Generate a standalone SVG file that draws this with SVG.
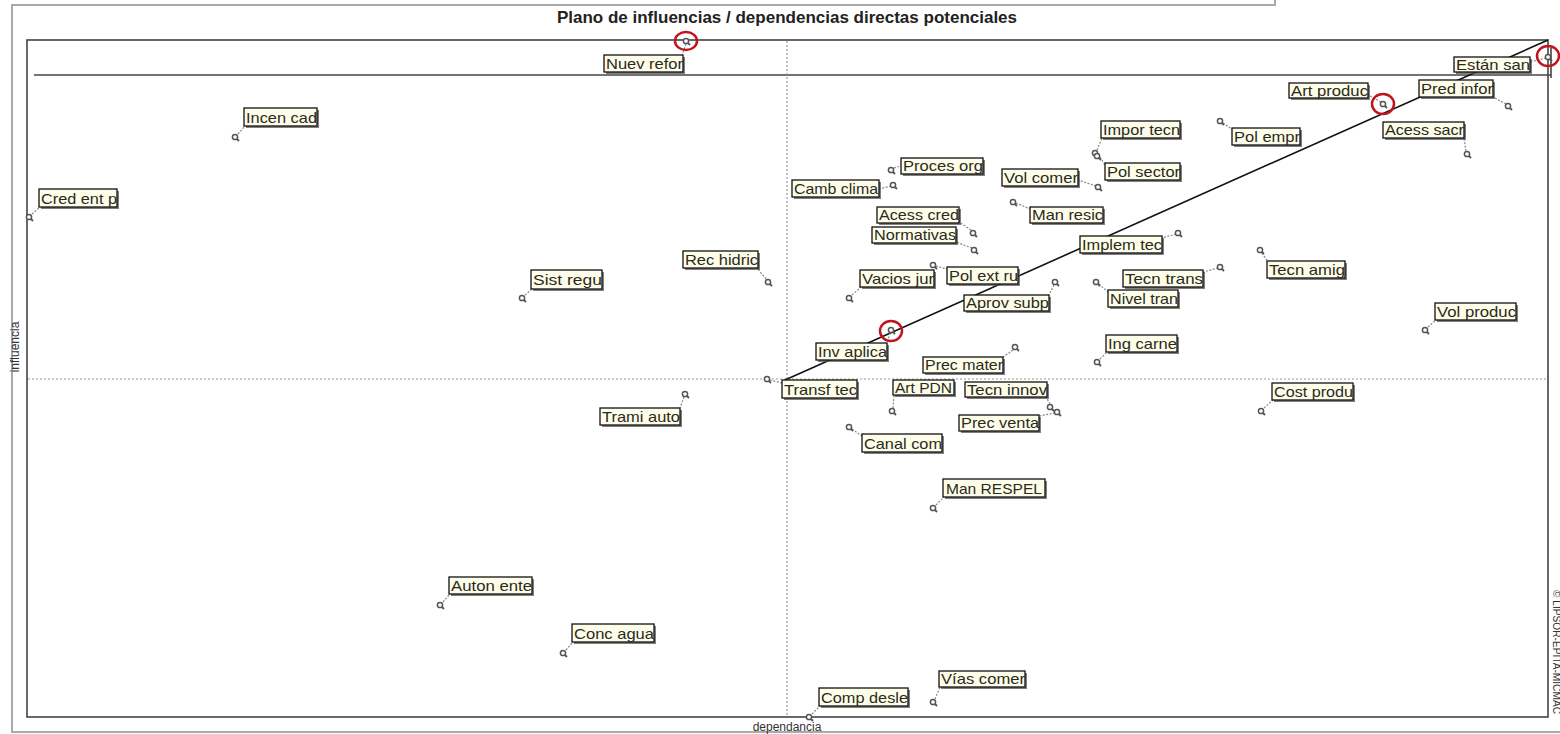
<svg xmlns="http://www.w3.org/2000/svg" xmlns:xlink="http://www.w3.org/1999/xlink" width="1560" height="734" viewBox="0 0 1560 734">
<style>
.frame{fill:none;stroke:#444;stroke-width:1.6}
.outer{fill:none;stroke:#aaa;stroke-width:2}
.axis{stroke:#999;stroke-width:1.2;stroke-dasharray:2 2;fill:none}
.shadow{fill:#555;opacity:0.75}
.box{fill:#fdfdea;stroke:#111;stroke-width:1.3}
.lbl{font-family:"Liberation Sans",Arial,sans-serif;font-size:15px;fill:#2a2a1c}
.lead{stroke:#888;stroke-width:1.2;stroke-dasharray:2 1.5;fill:none}
.pc{fill:#fff;stroke:#555;stroke-width:1.5}
.pt{stroke:#555;stroke-width:1.8}
.hl{fill:none;stroke:#c0141e;stroke-width:2.5}
.title{font-family:"Liberation Sans",Arial,sans-serif;font-size:17px;font-weight:bold;fill:#222}
.ax{font-family:"Liberation Sans",Arial,sans-serif;font-size:12px;fill:#333}
</style>
<defs>
<g id="p"><line class="pt" x1="1" y1="1" x2="4" y2="4"/><circle class="pc" cx="0" cy="0" r="2.6"/></g>
</defs>
<rect x="0" y="0" width="1560" height="734" fill="#fff"/>
<g id="frame">
<polyline class="outer" points="1275,0 1275,5 12,5 12,732 1560,732"/>
<rect class="frame" x="27" y="40" width="1521" height="677"/>
<line class="frame" x1="34" y1="75" x2="1551" y2="75"/>
<line class="frame" x1="1551" y1="48" x2="1551" y2="78"/>
<line class="axis" x1="787" y1="41" x2="787" y2="716"/>
<line class="axis" x1="28" y1="379" x2="1547" y2="379"/>
<text class="title" x="787" y="23" text-anchor="middle">Plano de influencias / dependencias directas potenciales</text>
<text class="ax" x="787" y="731" text-anchor="middle">dependancia</text>
<text class="ax" transform="translate(19,347) rotate(-90)" text-anchor="middle">influencia</text>
<text transform="translate(1553,590) rotate(90)" font-family="Liberation Sans, Arial, sans-serif" font-size="10" textLength="124" lengthAdjust="spacingAndGlyphs" fill="#333">© LIPSOR-EPITA-MICMAC</text>
</g>
<g id="connectors">
<line x1="785" y1="380" x2="1548" y2="40" stroke="#111" stroke-width="1.6"/>
<line class="lead" x1="686" y1="44" x2="682" y2="55"/>
<line class="lead" x1="238" y1="134" x2="245" y2="126"/>
<line class="lead" x1="32" y1="214" x2="40" y2="207"/>
<line class="lead" x1="525" y1="295" x2="532" y2="289"/>
<line class="lead" x1="766" y1="279" x2="757" y2="268"/>
<line class="lead" x1="684" y1="397" x2="680" y2="408"/>
<line class="lead" x1="770" y1="380" x2="782" y2="383"/>
<line class="lead" x1="443" y1="602" x2="450" y2="594"/>
<line class="lead" x1="566" y1="650" x2="573" y2="642"/>
<line class="lead" x1="812" y1="714" x2="820" y2="706"/>
<line class="lead" x1="935" y1="699" x2="940" y2="687"/>
<line class="lead" x1="936" y1="505" x2="944" y2="497"/>
<line class="lead" x1="852" y1="429" x2="862" y2="436"/>
<line class="lead" x1="893" y1="408" x2="894" y2="394"/>
<line class="lead" x1="1050" y1="404" x2="1046" y2="397"/>
<line class="lead" x1="1055" y1="413" x2="1039" y2="416"/>
<line class="lead" x1="1013" y1="350" x2="1003" y2="357"/>
<line class="lead" x1="890" y1="333" x2="887" y2="343"/>
<line class="lead" x1="852" y1="295" x2="861" y2="287"/>
<line class="lead" x1="936" y1="266" x2="947" y2="269"/>
<line class="lead" x1="1054" y1="285" x2="1049" y2="295"/>
<line class="lead" x1="971" y1="230" x2="959" y2="222"/>
<line class="lead" x1="972" y1="248" x2="956" y2="242"/>
<line class="lead" x1="891" y1="186" x2="879" y2="189"/>
<line class="lead" x1="894" y1="168" x2="901" y2="166"/>
<line class="lead" x1="1096" y1="186" x2="1078" y2="180"/>
<line class="lead" x1="1016" y1="203" x2="1030" y2="209"/>
<line class="lead" x1="1097" y1="150" x2="1102" y2="138"/>
<line class="lead" x1="1100" y1="157" x2="1105" y2="165"/>
<line class="lead" x1="1176" y1="234" x2="1162" y2="238"/>
<line class="lead" x1="1218" y1="268" x2="1203" y2="272"/>
<line class="lead" x1="1099" y1="284" x2="1108" y2="292"/>
<line class="lead" x1="1100" y1="359" x2="1107" y2="352"/>
<line class="lead" x1="1262" y1="253" x2="1268" y2="262"/>
<line class="lead" x1="1428" y1="327" x2="1436" y2="320"/>
<line class="lead" x1="1264" y1="408" x2="1273" y2="400"/>
<line class="lead" x1="1223" y1="123" x2="1233" y2="130"/>
<line class="lead" x1="1381" y1="102" x2="1368" y2="95"/>
<line class="lead" x1="1466" y1="151" x2="1464" y2="138"/>
<line class="lead" x1="1506" y1="104" x2="1493" y2="97"/>
<line class="lead" x1="1546" y1="58" x2="1530" y2="62"/>
</g>
<g id="n-nuev-refor"><use xlink:href="#p" x="686" y="41"/><rect class="shadow" x="606" y="57" width="79" height="17"/><rect class="box" x="604" y="55" width="79" height="17"/><text class="lbl" x="606" y="68.5" textLength="77" lengthAdjust="spacingAndGlyphs">Nuev refor</text></g>
<g id="n-incen-cad"><use xlink:href="#p" x="235" y="137"/><rect class="shadow" x="246" y="110" width="73" height="18"/><rect class="box" x="244" y="108" width="73" height="18"/><text class="lbl" x="246" y="122.5" textLength="71" lengthAdjust="spacingAndGlyphs">Incen cad</text></g>
<g id="n-cred-ent"><use xlink:href="#p" x="29" y="217"/><rect class="shadow" x="41" y="191" width="78" height="18"/><rect class="box" x="39" y="189" width="78" height="18"/><text class="lbl" x="41" y="203.5" textLength="76" lengthAdjust="spacingAndGlyphs">Cred ent p</text></g>
<g id="n-sist-regu"><use xlink:href="#p" x="522" y="298"/><rect class="shadow" x="533" y="272" width="71" height="19"/><rect class="box" x="531" y="270" width="71" height="19"/><text class="lbl" x="533" y="285" textLength="69" lengthAdjust="spacingAndGlyphs">Sist regu</text></g>
<g id="n-rec-hidric"><use xlink:href="#p" x="768" y="282"/><rect class="shadow" x="685" y="253" width="75" height="17"/><rect class="box" x="683" y="251" width="75" height="17"/><text class="lbl" x="685" y="264.5" textLength="73" lengthAdjust="spacingAndGlyphs">Rec hidric</text></g>
<g id="n-trami-auto"><use xlink:href="#p" x="685" y="394"/><rect class="shadow" x="602" y="410" width="80" height="17"/><rect class="box" x="600" y="408" width="80" height="17"/><text class="lbl" x="602" y="421.5" textLength="78" lengthAdjust="spacingAndGlyphs">Trami auto</text></g>
<g id="n-transf-tec"><use xlink:href="#p" x="767" y="379"/><rect class="shadow" x="784" y="382" width="75" height="18"/><rect class="box" x="782" y="380" width="75" height="18"/><text class="lbl" x="784" y="394.5" textLength="73" lengthAdjust="spacingAndGlyphs">Transf tec</text></g>
<g id="n-auton-ente"><use xlink:href="#p" x="440" y="605"/><rect class="shadow" x="451" y="579" width="83" height="17"/><rect class="box" x="449" y="577" width="83" height="17"/><text class="lbl" x="451" y="590.5" textLength="81" lengthAdjust="spacingAndGlyphs">Auton ente</text></g>
<g id="n-conc-agua"><use xlink:href="#p" x="563" y="653"/><rect class="shadow" x="574" y="626" width="82" height="18"/><rect class="box" x="572" y="624" width="82" height="18"/><text class="lbl" x="574" y="638.5" textLength="80" lengthAdjust="spacingAndGlyphs">Conc agua</text></g>
<g id="n-comp-desle"><use xlink:href="#p" x="809" y="717"/><rect class="shadow" x="821" y="690" width="89" height="18"/><rect class="box" x="819" y="688" width="89" height="18"/><text class="lbl" x="821" y="702.5" textLength="87" lengthAdjust="spacingAndGlyphs">Comp desle</text></g>
<g id="n-vias-comer"><use xlink:href="#p" x="933" y="702"/><rect class="shadow" x="941" y="673" width="86" height="16"/><rect class="box" x="939" y="671" width="86" height="16"/><text class="lbl" x="941" y="684" textLength="84" lengthAdjust="spacingAndGlyphs">Vías comer</text></g>
<g id="n-man-respel"><use xlink:href="#p" x="933" y="508"/><rect class="shadow" x="945" y="481" width="102" height="18"/><rect class="box" x="943" y="479" width="102" height="18"/><text class="lbl" x="946" y="493.5" textLength="96" lengthAdjust="spacingAndGlyphs">Man RESPEL</text></g>
<g id="n-canal-com"><use xlink:href="#p" x="849" y="427"/><rect class="shadow" x="864" y="436" width="80" height="18"/><rect class="box" x="862" y="434" width="80" height="18"/><text class="lbl" x="864" y="448.5" textLength="78" lengthAdjust="spacingAndGlyphs">Canal com</text></g>
<g id="n-art-pdn"><use xlink:href="#p" x="892" y="411"/><rect class="shadow" x="895" y="382" width="61" height="15"/><rect class="box" x="893" y="380" width="61" height="15"/><text class="lbl" x="895" y="393" textLength="57" lengthAdjust="spacingAndGlyphs">Art PDN</text></g>
<g id="n-tecn-innov"><use xlink:href="#p" x="1050" y="407"/><rect class="shadow" x="967" y="384" width="82" height="15"/><rect class="box" x="965" y="382" width="82" height="15"/><text class="lbl" x="967" y="395" textLength="80" lengthAdjust="spacingAndGlyphs">Tecn innov</text></g>
<g id="n-prec-venta"><use xlink:href="#p" x="1057" y="412"/><rect class="shadow" x="961" y="417" width="80" height="16"/><rect class="box" x="959" y="415" width="80" height="16"/><text class="lbl" x="961" y="428" textLength="78" lengthAdjust="spacingAndGlyphs">Prec venta</text></g>
<g id="n-prec-mater"><use xlink:href="#p" x="1015" y="347"/><rect class="shadow" x="925" y="359" width="80" height="16"/><rect class="box" x="923" y="357" width="80" height="16"/><text class="lbl" x="925" y="370" textLength="78" lengthAdjust="spacingAndGlyphs">Prec mater</text></g>
<g id="n-inv-aplica"><use xlink:href="#p" x="891" y="330"/><rect class="shadow" x="818" y="345" width="71" height="17"/><rect class="box" x="816" y="343" width="71" height="17"/><text class="lbl" x="818" y="356.5" textLength="69" lengthAdjust="spacingAndGlyphs">Inv aplica</text></g>
<g id="n-vacios-jur"><use xlink:href="#p" x="849" y="298"/><rect class="shadow" x="862" y="272" width="74" height="17"/><rect class="box" x="860" y="270" width="74" height="17"/><text class="lbl" x="862" y="283.5" textLength="72" lengthAdjust="spacingAndGlyphs">Vacios jur</text></g>
<g id="n-pol-ext-ru"><use xlink:href="#p" x="933" y="265"/><rect class="shadow" x="949" y="269" width="71" height="17"/><rect class="box" x="947" y="267" width="71" height="17"/><text class="lbl" x="949" y="280.5" textLength="69" lengthAdjust="spacingAndGlyphs">Pol ext ru</text></g>
<g id="n-aprov-subp"><use xlink:href="#p" x="1055" y="282"/><rect class="shadow" x="966" y="297" width="85" height="16"/><rect class="box" x="964" y="295" width="85" height="16"/><text class="lbl" x="966" y="308" textLength="83" lengthAdjust="spacingAndGlyphs">Aprov subp</text></g>
<g id="n-acess-cred"><use xlink:href="#p" x="973" y="233"/><rect class="shadow" x="879" y="209" width="82" height="16"/><rect class="box" x="877" y="207" width="82" height="16"/><text class="lbl" x="879" y="220" textLength="80" lengthAdjust="spacingAndGlyphs">Acess cred</text></g>
<g id="n-normativas"><use xlink:href="#p" x="974" y="250"/><rect class="shadow" x="874" y="229" width="84" height="16"/><rect class="box" x="872" y="227" width="84" height="16"/><text class="lbl" x="874" y="240" textLength="82" lengthAdjust="spacingAndGlyphs">Normativas</text></g>
<g id="n-camb-clima"><use xlink:href="#p" x="893" y="185"/><rect class="shadow" x="794" y="182" width="87" height="17"/><rect class="box" x="792" y="180" width="87" height="17"/><text class="lbl" x="794" y="193.5" textLength="84" lengthAdjust="spacingAndGlyphs">Camb clima</text></g>
<g id="n-proces-org"><use xlink:href="#p" x="891" y="170"/><rect class="shadow" x="903" y="160" width="82" height="16"/><rect class="box" x="901" y="158" width="82" height="16"/><text class="lbl" x="903" y="171" textLength="80" lengthAdjust="spacingAndGlyphs">Proces org</text></g>
<g id="n-vol-comer"><use xlink:href="#p" x="1098" y="187"/><rect class="shadow" x="1004" y="171" width="76" height="17"/><rect class="box" x="1002" y="169" width="76" height="17"/><text class="lbl" x="1004" y="182.5" textLength="74" lengthAdjust="spacingAndGlyphs">Vol comer</text></g>
<g id="n-man-resic"><use xlink:href="#p" x="1013" y="202"/><rect class="shadow" x="1032" y="209" width="73" height="16"/><rect class="box" x="1030" y="207" width="73" height="16"/><text class="lbl" x="1032" y="220" textLength="71" lengthAdjust="spacingAndGlyphs">Man resic</text></g>
<g id="n-impor-tecn"><use xlink:href="#p" x="1095" y="153"/><rect class="shadow" x="1103" y="123" width="79" height="17"/><rect class="box" x="1101" y="121" width="79" height="17"/><text class="lbl" x="1103" y="134.5" textLength="77" lengthAdjust="spacingAndGlyphs">Impor tecn</text></g>
<g id="n-pol-sector"><use xlink:href="#p" x="1097" y="156"/><rect class="shadow" x="1107" y="165" width="75" height="17"/><rect class="box" x="1105" y="163" width="75" height="17"/><text class="lbl" x="1107" y="176.5" textLength="73" lengthAdjust="spacingAndGlyphs">Pol sector</text></g>
<g id="n-implem-tec"><use xlink:href="#p" x="1178" y="233"/><rect class="shadow" x="1082" y="238" width="82" height="17"/><rect class="box" x="1080" y="236" width="82" height="17"/><text class="lbl" x="1082" y="249.5" textLength="80" lengthAdjust="spacingAndGlyphs">Implem tec</text></g>
<g id="n-tecn-trans"><use xlink:href="#p" x="1220" y="267"/><rect class="shadow" x="1125" y="272" width="80" height="17"/><rect class="box" x="1123" y="270" width="80" height="17"/><text class="lbl" x="1125" y="283.5" textLength="78" lengthAdjust="spacingAndGlyphs">Tecn trans</text></g>
<g id="n-nivel-tran"><use xlink:href="#p" x="1096" y="282"/><rect class="shadow" x="1110" y="292" width="70" height="17"/><rect class="box" x="1108" y="290" width="70" height="17"/><text class="lbl" x="1110" y="303.5" textLength="68" lengthAdjust="spacingAndGlyphs">Nivel tran</text></g>
<g id="n-ing-carne"><use xlink:href="#p" x="1097" y="362"/><rect class="shadow" x="1108" y="337" width="71" height="17"/><rect class="box" x="1106" y="335" width="71" height="17"/><text class="lbl" x="1108" y="348.5" textLength="69" lengthAdjust="spacingAndGlyphs">Ing carne</text></g>
<g id="n-tecn-amig"><use xlink:href="#p" x="1260" y="250"/><rect class="shadow" x="1269" y="263" width="78" height="17"/><rect class="box" x="1267" y="261" width="78" height="17"/><text class="lbl" x="1269" y="274.5" textLength="76" lengthAdjust="spacingAndGlyphs">Tecn amig</text></g>
<g id="n-vol-produc"><use xlink:href="#p" x="1425" y="330"/><rect class="shadow" x="1437" y="305" width="81" height="17"/><rect class="box" x="1435" y="303" width="81" height="17"/><text class="lbl" x="1437" y="316.5" textLength="79" lengthAdjust="spacingAndGlyphs">Vol produc</text></g>
<g id="n-cost-produ"><use xlink:href="#p" x="1261" y="411"/><rect class="shadow" x="1274" y="385" width="81" height="17"/><rect class="box" x="1272" y="383" width="81" height="17"/><text class="lbl" x="1274" y="396.5" textLength="79" lengthAdjust="spacingAndGlyphs">Cost produ</text></g>
<g id="n-pol-empr"><use xlink:href="#p" x="1220" y="121"/><rect class="shadow" x="1234" y="130" width="68" height="17"/><rect class="box" x="1232" y="128" width="68" height="17"/><text class="lbl" x="1234" y="141.5" textLength="66" lengthAdjust="spacingAndGlyphs">Pol empr</text></g>
<g id="n-art-produc"><use xlink:href="#p" x="1383" y="104"/><rect class="shadow" x="1291" y="85" width="79" height="15"/><rect class="box" x="1289" y="83" width="79" height="15"/><text class="lbl" x="1291" y="96" textLength="77" lengthAdjust="spacingAndGlyphs">Art produc</text></g>
<g id="n-acess-sacr"><use xlink:href="#p" x="1467" y="154"/><rect class="shadow" x="1385" y="124" width="81" height="16"/><rect class="box" x="1383" y="122" width="81" height="16"/><text class="lbl" x="1385" y="135" textLength="79" lengthAdjust="spacingAndGlyphs">Acess sacr</text></g>
<g id="n-pred-infor"><use xlink:href="#p" x="1508" y="106"/><rect class="shadow" x="1421" y="82" width="74" height="17"/><rect class="box" x="1419" y="80" width="74" height="17"/><text class="lbl" x="1421" y="93.5" textLength="72" lengthAdjust="spacingAndGlyphs">Pred infor</text></g>
<g id="n-estan-san"><use xlink:href="#p" x="1548" y="57"/><rect class="shadow" x="1456" y="59" width="76" height="15"/><rect class="box" x="1454" y="57" width="76" height="15"/><text class="lbl" x="1456" y="70" textLength="74" lengthAdjust="spacingAndGlyphs">Están san</text></g>
<g id="highlights">
<ellipse class="hl" cx="686" cy="41" rx="11" ry="9"/>
<ellipse class="hl" cx="891" cy="331" rx="11" ry="10"/>
<ellipse class="hl" cx="1383" cy="104" rx="11" ry="10"/>
<ellipse class="hl" cx="1548" cy="56" rx="11" ry="10"/>
</g>
</svg>
